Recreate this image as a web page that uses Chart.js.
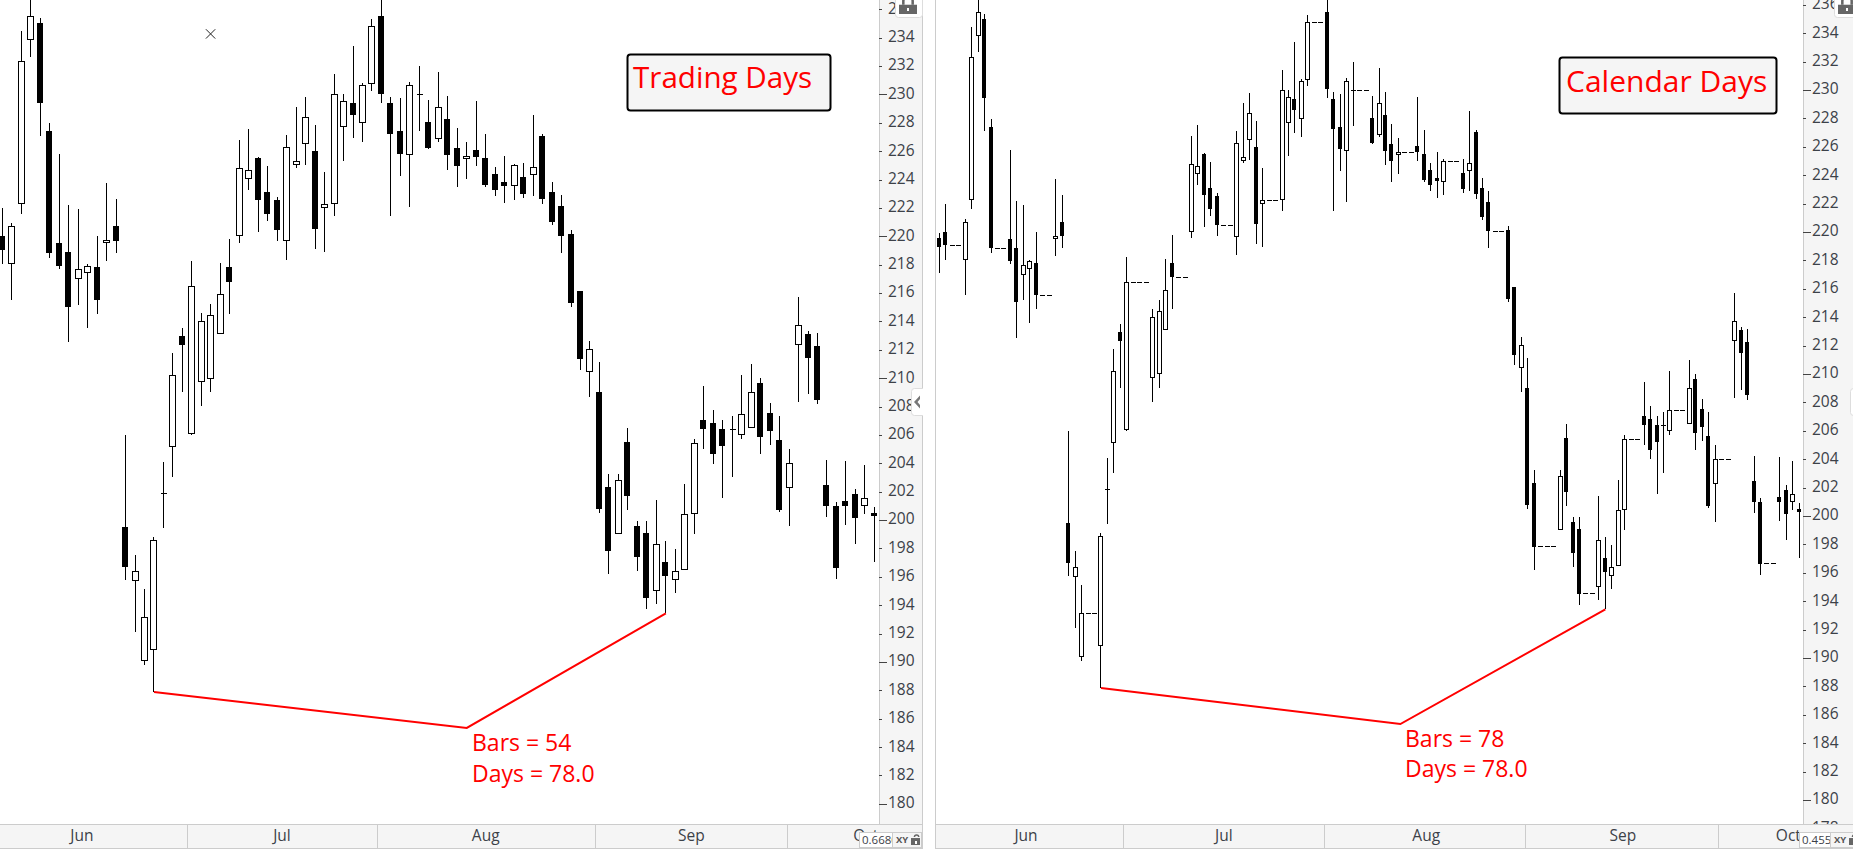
<!DOCTYPE html>
<html><head><meta charset="utf-8">
<title>Trading Days vs Calendar Days</title>
<style>
html,body{margin:0;padding:0;background:#fff;width:1853px;height:852px;overflow:hidden}
canvas{position:absolute;top:0}
#left{left:0}
#right{left:935px}
</style>
<script src="https://cdn.jsdelivr.net/npm/chart.js@4"></script>
</head><body>
<canvas id="left" width="923" height="849"></canvas>
<canvas id="right" width="918" height="849"></canvas>
<script>
// Calendar day (0 = first bar, a Thursday in June) of each trading session
const tradingDay = [0,1,4,5,6,7,8,11,12,13,14,15,18,19,20,21,22,25,26,27,28,29,33,34,35,36,39,40,41,42,43,46,47,48,49,50,53,54,55,56,57,60,61,62,63,64,67,68,69,70,71,74,75,76,77,78,81,82,83,84,85,88,89,90,91,92,96,97,98,99,102,103,104,105,106,109,110,111,112,113,116,117,118,119,120,123,124,125,126,127,130,131,132,133];
const opens = [219.55,220.00,218.02,222.25,233.81,235.01,227.39,219.50,218.87,216.96,217.39,217.81,219.50,220.70,199.49,195.68,190.05,190.82,201.88,205.13,212.97,206.09,209.71,209.97,213.09,217.81,220.00,224.06,225.49,223.10,222.53,219.64,225.00,226.48,225.99,221.97,222.25,227.68,229.37,227.96,230.71,235.50,229.37,227.39,225.70,230.00,228.03,226.83,228.24,226.20,225.42,226.06,225.49,224.36,223.80,223.52,224.15,224.29,227.04,223.10,222.11,220.14,216.12,210.41,209.00,202.31,199.00,205.48,199.56,199.07,194.98,197.02,195.75,196.46,200.40,207.03,206.82,206.39,206.39,205.97,206.47,209.64,207.52,205.62,202.24,212.31,213.09,212.24,202.45,200.97,201.32,201.81,200.97,200.48];
const highs = [219.90,221.97,220.91,234.44,236.88,235.36,227.96,225.80,222.18,221.90,218.02,220.00,223.75,222.60,206.00,197.52,195.12,198.78,204.07,211.75,213.51,218.23,214.57,215.23,218.09,219.78,226.76,227.54,225.56,224.93,222.74,227.11,229.09,229.79,227.82,224.51,231.41,230.00,233.38,230.78,235.29,236.77,229.84,229.72,230.85,231.98,229.58,231.55,229.86,227.61,226.62,229.51,227.18,224.86,225.63,225.12,225.14,228.52,227.18,223.80,222.88,220.42,216.12,212.60,211.12,203.22,203.22,206.47,199.91,199.91,201.39,198.50,197.94,202.52,205.69,209.42,207.73,207.03,207.31,210.20,210.98,209.99,208.23,207.31,204.99,215.70,213.30,213.16,204.21,201.30,204.14,202.17,203.86,200.90];
const lows = [217.13,218.05,215.53,221.59,232.66,227.09,218.49,217.72,212.57,215.18,213.56,214.55,218.28,218.84,195.80,192.14,189.76,187.88,199.47,203.06,209.05,206.02,208.06,209.05,213.09,214.55,219.55,223.28,220.32,221.10,219.69,218.35,224.83,225.05,219.13,218.92,221.45,225.33,226.95,226.67,230.26,229.42,221.45,224.27,222.09,227.44,226.17,226.67,224.69,223.50,224.06,224.98,223.50,222.86,222.37,222.58,222.72,222.86,222.30,220.82,218.84,215.04,210.60,208.70,200.52,196.22,199.00,200.73,196.44,193.76,194.11,193.43,194.88,196.46,199.04,205.03,203.98,201.58,203.06,205.74,206.47,204.68,205.31,200.59,199.61,208.30,208.86,208.16,200.24,195.87,199.68,198.34,200.45,197.07];
const closes = [218.96,219.06,220.70,232.33,235.50,229.42,218.84,217.93,215.04,217.67,217.93,215.53,219.71,219.69,196.72,196.39,193.15,198.57,201.88,210.20,212.36,216.47,214.01,214.43,215.91,216.80,224.79,224.65,222.58,221.59,220.47,226.27,225.28,228.38,220.54,222.25,230.00,229.51,228.57,230.64,234.79,230.05,227.23,225.82,230.64,230.00,226.24,229.09,225.70,224.98,225.63,225.61,223.64,223.28,223.57,225.00,223.00,224.86,222.65,221.03,220.04,215.27,211.37,212.03,200.80,197.84,202.80,201.72,197.42,194.53,198.29,196.08,196.39,200.40,205.41,206.39,204.68,205.24,206.39,207.45,209.00,205.88,206.30,200.73,204.00,213.72,211.45,208.49,201.02,196.65,201.02,200.17,201.53,200.31];

const yTicksLeft  = [180,182,184,186,188,190,192,194,196,198,200,202,204,206,208,210,212,214,216,218,220,222,224,226,228,230,232,234,236];
const yTicksRight = [178,180,182,184,186,188,190,192,194,196,198,200,202,204,206,208,210,212,214,216,218,220,222,224,226,228,230,232,234,236];
const monthNames = ['Jun','Jul','Aug','Sep','Oct'];
const monthCentersLeft  = [8.4,29.5,51,72.7,91.1];
const monthCentersRight = [13.4,44,75.3,105.7,131.3];
const monthEdgesLeft  = [19.5,39.5,62.5,82.8];
const monthEdgesRight = [28.44,59.55,90.5,120.5];
const swingLeftX  = [16,49,70];
const swingRightX = [25,71.3,103];
const swingY = [187.88,185.35,193.43];
const cursorMark = {x:21.97,y:234.26};

const FONT = '"Open Sans"';
const AXIS_TEXT = '#3c4148';
const PANEL = '#f5f5f5';
const RULE = '#cccccc';

function snapPlugin(){
  return {id:'snap',afterDatasetsUpdate(chart){
    chart.data.datasets.forEach((ds,k)=>{
      const meta=chart.getDatasetMeta(k);
      if(ds.snap==='bar'){
        meta.data.forEach(el=>{
          const w=Math.round(el.width);
          el.x = (w%2===1)?Math.floor(el.x)+0.5:Math.floor(el.x);
          el.width=w;
          el.y=Math.round(el.y); el.base=Math.round(el.base);
          if(Math.abs(el.base-el.y)<1) el.base=el.y+1;
        });
      } else if(ds.snap==='tick'){
        const even=Math.round(ds.pointRadius*2)%2===0;
        meta.data.forEach(el=>{
          el.x=even?Math.floor(el.x)+1:Math.floor(el.x)+0.5;
          el.y=Math.floor(el.y)+0.5;
        });
      }
    });
  }};
}

function lockGlyph(ctx,x,y,w,h,open){
  ctx.save();
  ctx.fillStyle='#666'; ctx.strokeStyle='#666'; ctx.lineWidth=Math.max(1.5,w*0.14);
  const bodyTop=y+h*0.42;
  ctx.beginPath();
  if(open){ctx.arc(x+w*0.62,y+h*0.34,w*0.24,Math.PI,0);}
  else{ctx.moveTo(x+w*0.24,bodyTop);ctx.lineTo(x+w*0.24,y+h*0.2);ctx.arc(x+w*0.5,y+h*0.2,w*0.26,Math.PI,0);ctx.lineTo(x+w*0.76,bodyTop);}
  ctx.stroke();
  ctx.fillRect(x,bodyTop,w,y+h-bodyTop);
  ctx.fillStyle='#fff';
  ctx.fillRect(Math.round(x+w/2-1),Math.round(bodyTop+(y+h-bodyTop)/2-1),2,3);
  ctx.restore();
}

function roundedBox(ctx,x,y,w,h,r,fill,stroke,lw){
  ctx.beginPath();
  ctx.roundRect(x,y,w,h,r);
  ctx.fillStyle=fill; ctx.fill();
  ctx.strokeStyle=stroke; ctx.lineWidth=lw; ctx.stroke();
}

function framePlugin(c){
  return {
    id:'frame',
    beforeDraw(chart){
      const ctx=chart.ctx;ctx.save();ctx.fillStyle='#fff';ctx.fillRect(0,0,chart.width,chart.height);ctx.restore();
    },
    afterDraw(chart){
      const ctx=chart.ctx, a=chart.chartArea, xs=chart.scales.x, ys=chart.scales.y;
      const W=chart.width;
      ctx.save();
      ctx.fillStyle=PANEL; ctx.fillRect(a.right,a.bottom,W-a.right,25);
      ctx.fillStyle=RULE;
      ctx.fillRect(a.right,0,1,a.bottom);
      ctx.fillRect(0,a.bottom,W,1);
      ctx.fillRect(0,a.bottom+24,W,1);
      if(c.rightEdge) ctx.fillRect(W-1,0,1,a.bottom+25);
      if(c.leftEdge) ctx.fillRect(0,0,1,a.bottom+25);
      c.monthEdges.forEach(v=>{
        ctx.fillRect(Math.round(xs.getPixelForValue(v)),a.bottom,1,24);
      });
      ctx.fillStyle='#444';
      c.yTicks.forEach(v=>{
        const y=Math.round(ys.getPixelForValue(v));
        if(y>=a.bottom) return;
        ctx.fillRect(a.right,y,v%10===0?8:3,1);
      });
      const b=c.titleBox;
      roundedBox(ctx,b.x+.5,b.y+.5,b.w,b.h,3,PANEL,'#000',2);
      ctx.fillStyle='#ff0000';ctx.textAlign='left';ctx.textBaseline='alphabetic';
      ctx.font=c.titleSize+'px '+FONT;
      ctx.fillText(c.title,b.tx,b.ty);
      ctx.font='23px '+FONT;
      c.note.forEach(n=>ctx.fillText(n.t,n.x,n.y));
      const lb=c.lockBtn;
      roundedBox(ctx,lb.x+.5,-3.5,lb.w,lb.h+3,3,'#fff','#dddddd',1);
      lockGlyph(ctx,lb.x+4,-2,18,16,false);
      const cb=c.chevBtn;
      roundedBox(ctx,cb.x+.5,388.5,cb.w,27,3,'#fff','#dddddd',1);
      ctx.fillStyle='#777';
      ctx.beginPath();
      const cx=cb.x+6;
      ctx.moveTo(cx+3,395.5);ctx.lineTo(cx-3,402);ctx.lineTo(cx+3,408.5);ctx.lineTo(cx+3,405);ctx.lineTo(cx+.5,402);ctx.lineTo(cx+3,399);ctx.closePath();ctx.fill();
      const rd=c.readout;
      ctx.fillStyle=PANEL;ctx.fillRect(rd.x,832,W-rd.x-(c.rightEdge?1:0),15);
      ctx.fillStyle='#fff';ctx.fillRect(rd.x,832,rd.split-rd.x,15);
      ctx.strokeStyle=RULE;ctx.lineWidth=1;
      ctx.strokeRect(rd.x+.5,832.5,W-rd.x-(c.rightEdge?2:0),15);
      ctx.strokeRect(rd.split+.5,832.5,0,15);
      ctx.save();ctx.beginPath();ctx.rect(rd.x+1,833,rd.split-rd.x-1,14);ctx.clip();
      ctx.fillStyle=AXIS_TEXT;ctx.font='11.5px '+FONT;ctx.fillText(rd.text,rd.x+3,844);ctx.restore();
      ctx.fillStyle='#555';ctx.font='bold 9.5px '+FONT;ctx.fillText('XY',rd.split+4,843);
      lockGlyph(ctx,rd.split+19,833,9,12,true);
      ctx.restore();
    }
  };
}

function buildChart(id,c){
  const el=document.getElementById(id);
  el.getContext('2d',{alpha:false});
  const xAt=c.xValues;
  const bars=opens.map((o,i)=>({x:xAt[i],o,h:highs[i],l:lows[i],c:closes[i]}));
  const datasets=[
    {type:'line',label:'swing',data:c.swingX.map((x,i)=>({x,y:swingY[i]})),borderColor:'#ff0000',borderWidth:2,pointRadius:0,tension:0,order:0,clip:false},
    {type:'line',label:'flat',snap:'tick',showLine:false,data:c.flat,pointStyle:'line',pointRadius:c.flatR,pointBorderWidth:1,pointBorderColor:'#000',pointBackgroundColor:'#000',order:1},
    {type:'bar',label:'up',snap:'bar',grouped:false,data:bars.filter(b=>b.c>b.o).map(b=>({x:b.x,y:[b.o,b.c]})),barThickness:c.upW,backgroundColor:'#fff',borderColor:'#000',borderWidth:1,borderSkipped:false,inflateAmount:0,order:2},
    {type:'bar',label:'down',snap:'bar',grouped:false,data:bars.filter(b=>b.c<b.o).map(b=>({x:b.x,y:[b.c,b.o]})),barThickness:c.downW,backgroundColor:'#000',borderWidth:0,inflateAmount:0,order:3},
    {type:'bar',label:'wick',snap:'bar',grouped:false,data:bars.map(b=>({x:b.x,y:[b.l,b.h]})),barThickness:1,backgroundColor:'#000',borderWidth:0,inflateAmount:0,order:4}
  ];
  if(c.mark) datasets.push({type:'line',label:'cursor',showLine:false,data:[c.mark],pointStyle:'crossRot',pointRadius:6.6,pointBorderWidth:1,pointBorderColor:'#222',order:0});
  return new Chart(el,{
    type:'bar',
    data:{datasets},
    plugins:[snapPlugin(),framePlugin(c)],
    options:{
      responsive:false,animation:false,events:[],
      layout:{padding:0,autoPadding:false},
      plugins:{legend:{display:false},tooltip:{enabled:false},title:{display:false}},
      scales:{
        x:{type:'linear',offset:false,min:c.xMin,max:c.xMax,backgroundColor:PANEL,
          grid:{display:false,drawTicks:false,offset:false},border:{display:false},
          afterBuildTicks:s=>{s.ticks=c.monthCenters.map(value=>({value}));},
          afterFit:s=>{s.height=25;s.paddingLeft=0;s.paddingRight=0;s.paddingTop=0;s.paddingBottom=0;},
          ticks:{autoSkip:false,maxRotation:0,minRotation:0,padding:3,color:AXIS_TEXT,font:{family:FONT,size:15.5},
            callback:(v,i)=>monthNames[i]}},
        y:{type:'linear',position:'right',beginAtZero:false,min:c.yMin,max:c.yMax,backgroundColor:PANEL,
          grid:{display:false,drawTicks:false},border:{display:false},
          afterBuildTicks:s=>{s.ticks=c.yTicks.map(value=>({value}));},
          afterFit:s=>{s.width=c.axisW;s.paddingLeft=0;s.paddingRight=0;s.paddingTop=0;s.paddingBottom=0;},
          ticks:{padding:9,color:AXIS_TEXT,font:{family:FONT,size:15.5},autoSkip:false,callback:v=>String(v)}}
      }
    }
  });
}

// Calendar view keeps a flat mark at the last close on every closed day
const calendarFlat=[];
tradingDay.forEach((d,i)=>{
  if(opens[i]===closes[i]) calendarFlat.push({x:d,y:closes[i]});
  const next=tradingDay[i+1];
  if(next!==undefined) for(let g=d+1;g<next;g++) calendarFlat.push({x:g,y:closes[i]});
});
const sessionIndex=tradingDay.map((d,i)=>i-1);
const tradingFlat=sessionIndex.filter((x,i)=>opens[i]===closes[i]).map(x=>({x,y:closes[x+1]}));

document.fonts.load('16px "Open Sans"').catch(()=>{}).finally(()=>{
buildChart('left',{
  xValues:sessionIndex,xMin:-0.246,xMax:92.49,yMin:178.58,yMax:236.65,axisW:44,
  yTicks:yTicksLeft,monthCenters:monthCentersLeft,monthEdges:monthEdgesLeft,swingX:swingLeftX,
  flat:tradingFlat,flatR:3,upW:7,downW:6,mark:cursorMark,rightEdge:true,leftEdge:false,
  title:'Trading Days',titleSize:29.6,titleBox:{x:627,y:54,w:203,h:56,tx:633,ty:88},
  note:[{t:'Bars = 54',x:472,y:751},{t:'Days = 78.0',x:472,y:782}],
  lockBtn:{x:895,w:27,h:18},chevBtn:{x:911,w:14},
  readout:{x:859,split:892,text:'0.6680'}
});
buildChart('right',{
  xValues:tradingDay,xMin:-0.67,xMax:133.57,yMin:178.31,yMax:236.34,axisW:50,
  yTicks:yTicksRight,monthCenters:monthCentersRight,monthEdges:monthEdgesRight,swingX:swingRightX,
  flat:calendarFlat,flatR:2.5,upW:5,downW:4,rightEdge:false,leftEdge:true,
  title:'Calendar Days',titleSize:30,titleBox:{x:624,y:57,w:217,h:56,tx:631,ty:92},
  note:[{t:'Bars = 78',x:470,y:747},{t:'Days = 78.0',x:470,y:777}],
  lockBtn:{x:899,w:30,h:18},chevBtn:{x:915,w:14},
  readout:{x:864,split:895,text:'0.4557'}
});
});
</script>
</body></html>
